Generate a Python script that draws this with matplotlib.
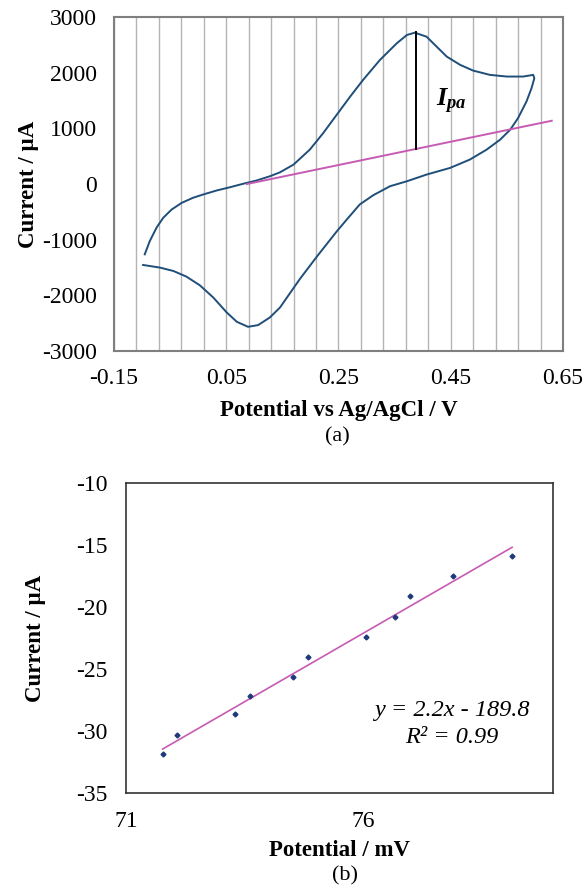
import numpy as np
import matplotlib
matplotlib.use('Agg')
import matplotlib.pyplot as plt
from matplotlib.ticker import MultipleLocator

plt.rcParams['font.family'] = ['Liberation Serif', 'DejaVu Serif']
plt.rcParams['axes.unicode_minus'] = False
plt.rcParams['mathtext.fontset'] = 'custom'
plt.rcParams['mathtext.it'] = 'Liberation Serif:italic:bold'
plt.rcParams['mathtext.rm'] = 'Liberation Serif:bold'

# (a) cyclic voltammogram (forward sweep, then reverse)
cv_potential = [-0.095, -0.086, -0.074, -0.062, -0.047, -0.029, -0.009, 0.009,
                0.033, 0.057, 0.080, 0.104, 0.128, 0.146, 0.170, 0.199, 0.223,
                0.247, 0.271, 0.294, 0.324, 0.354, 0.372, 0.386, 0.407, 0.425,
                0.443, 0.467, 0.490, 0.520, 0.550, 0.579, 0.597, 0.599,
                0.594, 0.585, 0.570, 0.556, 0.538, 0.514, 0.484, 0.449, 0.407,
                0.372, 0.342, 0.312, 0.288, 0.265, 0.247, 0.212, 0.181, 0.146,
                0.128, 0.107, 0.089, 0.069, 0.051, 0.027, 0.003, -0.021, -0.044,
                -0.068, -0.098]
cv_current = [-1263, -1024, -784, -605, -457, -337, -247, -188,
              -116, -57, 4, 63, 140, 211, 349, 618, 917,
              1245, 1572, 1872, 2230, 2529, 2678, 2719, 2647, 2468,
              2289, 2140, 2038, 1961, 1931, 1931, 1961, 1902,
              1723, 1483, 1185, 976, 797, 618, 439, 290, 170,
              50, -39, -201, -367, -636, -851, -1298, -1710, -2217,
              -2396, -2534, -2565, -2475, -2307, -2038, -1818, -1662, -1562,
              -1501, -1454]

baseline_x = [0.087, 0.630]
baseline_y = [0, 1137]
peak_x = 0.388
peak_top = 2725
peak_base = 630

# (b) peak current vs potential
pot_mv = [71.77, 72.08, 73.30, 73.61, 74.53, 74.83, 76.06, 76.68, 76.98, 77.90, 79.14]
cur_ua = [-31.88, -30.32, -28.65, -27.18, -25.67, -24.03, -22.44, -20.78, -19.11, -17.47, -15.89]

navy = '#1f4e79'
pink = '#c75bb3'

fig = plt.figure(figsize=(5.84, 8.88), dpi=100)

# ---- top chart ----
ax1 = fig.add_axes([0.195, 0.6047, 0.769, 0.3761])
ax1.plot(cv_potential, cv_current, color=navy, lw=1.4)
ax1.plot(baseline_x, baseline_y, color=pink, lw=1.4)
ax1.plot([peak_x, peak_x], [peak_base, peak_top], color='black', lw=1.4)
ax1.text(0.423, 1390, r'$I_{pa}$', fontsize=19)

ax1.set_xlim(-0.15, 0.65)
ax1.set_ylim(-3000, 3000)
ax1.yaxis.set_major_locator(MultipleLocator(1000))
ax1.set_xticks(np.arange(-0.15, 0.66, 0.2))
ax1.set_xticklabels(['-0.15', '0.05', '0.25', '0.45', '0.65'])
ax1.set_xticks(np.arange(-0.15, 0.651, 0.04), minor=True)
ax1.grid(axis='x', which='both', color='#b4b4b4', lw=1.0)
ax1.set_axisbelow(True)
ax1.tick_params(which='both', length=0, labelsize=17, pad=12)
for s in ax1.spines.values():
    s.set_color('#7f7f7f')
    s.set_linewidth(1.5)
ax1.set_xlabel('Potential vs Ag/AgCl / V', fontsize=16.5, fontweight='bold', labelpad=8)
ax1.set_ylabel('Current / µA', fontsize=16.5, fontweight='bold', labelpad=2)
fig.text(0.578, 1 - 437 / 888, '(a)', fontsize=16, ha='center', va='center')

# ---- bottom chart ----
ax2 = fig.add_axes([0.2158, 0.107, 0.731, 0.349])
coef = np.polyfit(pot_mv, cur_ua, 1)
fx = np.array([min(pot_mv), max(pot_mv)])
ax2.plot(fx, np.polyval(coef, fx), color=pink, lw=1.2)
ax2.plot(pot_mv, cur_ua, 'D', color='#1f3a7a', ms=2.5)
ax2.text(0.764, 0.266, 'y = 2.2x - 189.8', transform=ax2.transAxes,
         fontsize=17.5, fontstyle='italic', ha='center', va='center')
ax2.text(0.764, 0.178, 'R² = 0.99', transform=ax2.transAxes,
         fontsize=17.5, fontstyle='italic', ha='center', va='center')

ax2.set_xlim(71, 80)
ax2.set_ylim(-35, -10)
ax2.set_xticks([71, 76])
ax2.yaxis.set_major_locator(MultipleLocator(5))
ax2.tick_params(length=0, labelsize=17, pad=13)
for s in ax2.spines.values():
    s.set_color('#333333')
    s.set_linewidth(1.2)
ax2.set_xlabel('Potential / mV', fontsize=16.5, fontweight='bold', labelpad=6)
ax2.set_ylabel('Current / µA', fontsize=16.5, fontweight='bold', labelpad=22)
fig.text(0.591, 1 - 876 / 888, '(b)', fontsize=16, ha='center', va='center')

fig.savefig('out.png', dpi=100)
